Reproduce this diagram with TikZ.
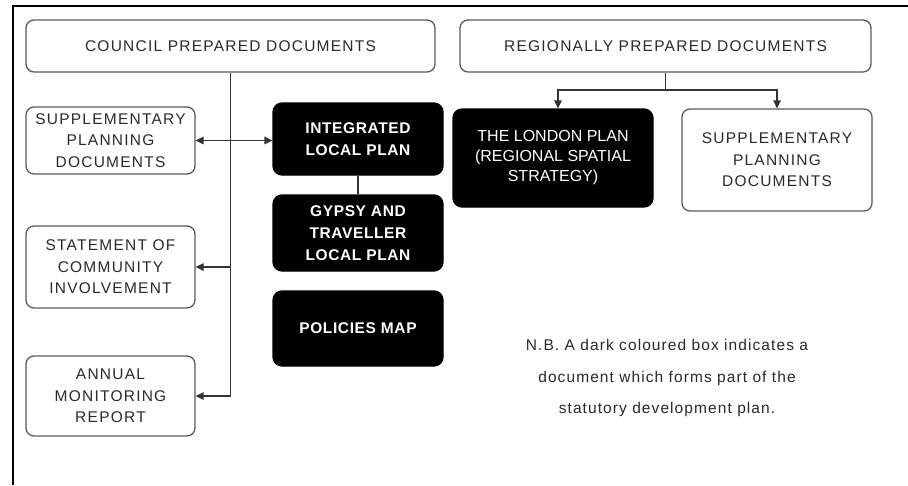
\documentclass[tikz,border=0pt]{standalone}
\usepackage{fontspec}
\setmainfont{Liberation Sans}
\newfontfamily\wfont[LetterSpace=8]{Liberation Sans}
\newfontfamily\bfontfam[LetterSpace=4]{Liberation Sans}
\newfontfamily\nbfont[LetterSpace=7]{Liberation Sans}
\usetikzlibrary{arrows.meta}
\definecolor{txtgray}{HTML}{2A2A2A}
\definecolor{boxgray}{HTML}{5A5A5A}
\tikzset{
  wbox/.style={draw=boxgray, line width=1.3pt, rounded corners=8pt, fill=white, text=txtgray,
    align=center, font=\wfont\fontsize{15.5}{21.5}\selectfont, inner sep=0pt},
  bbox/.style={draw=black, line width=1.3pt, rounded corners=9pt, fill=black, text=white,
    align=center, font=\bfontfam\fontsize{15.5}{22}\selectfont\bfseries, inner sep=0pt},
  lbox/.style={draw=black, line width=1.3pt, rounded corners=9pt, fill=black, text=white,
    align=center, font=\fontsize{16}{20}\selectfont, inner sep=0pt},
  conn/.style={draw=black!80, line width=1.4pt},
  tip/.style={-{Triangle[length=8pt,width=7.5pt]}},
  frame/.style={draw=black, line width=2pt}
}
\begin{document}
\begin{tikzpicture}[x=1pt,y=-1pt]
\useasboundingbox (0,0) rectangle (908,485);
\fill[white] (0,0) rectangle (908,485);
\coordinate (fTL) at (13,6);
\coordinate (fTR) at (908,6);
\coordinate (fBL) at (13,485);
\draw[frame] (fBL) -- (fTL) -- (fTR);

\node[wbox, minimum width=409pt, minimum height=52pt] (council) at (230.5,46) {COUNCIL PREPARED DOCUMENTS};
\node[wbox, minimum width=411pt, minimum height=52pt] (regional) at (665.5,46) {REGIONALLY PREPARED DOCUMENTS};

\node[wbox, minimum width=169pt, minimum height=67pt] (spdl) at (110.5,140.5) {SUPPLEMENTARY\\PLANNING\\DOCUMENTS};
\node[wbox, minimum width=169pt, minimum height=82pt] (sci) at (110.5,267) {STATEMENT OF\\COMMUNITY\\INVOLVEMENT};
\node[wbox, minimum width=169pt, minimum height=80pt] (amr) at (110.5,396) {ANNUAL\\MONITORING\\REPORT};

\node[bbox, minimum width=170pt, minimum height=72pt] (ilp) at (358,139) {INTEGRATED\\LOCAL PLAN};
\node[bbox, minimum width=170pt, minimum height=76pt] (gtlp) at (358,233) {GYPSY AND\\TRAVELLER\\LOCAL PLAN};
\node[bbox, minimum width=170pt, minimum height=75pt] (pmap) at (358,328.5) {POLICIES MAP};

\node[lbox, minimum width=200pt, minimum height=98pt] (london) at (553,158) {THE LONDON PLAN\\(REGIONAL SPATIAL\\STRATEGY)};
\node[wbox, minimum width=190pt, minimum height=102pt] (spdr) at (777,160) {SUPPLEMENTARY\\PLANNING\\DOCUMENTS};

\node[text=txtgray, align=center, font=\nbfont\fontsize{15.5}{31.5}\selectfont] (nb) at (667,378)
  {N.B. A dark coloured box indicates a\\document which forms part of the\\statutory development plan.};

% council connectors
\draw[conn, tip] (council.south) -- (council.south |- amr.east) -- (amr.east);
\draw[conn, tip] (council.south |- sci.east) -- (sci.east);
\draw[conn, {Triangle[length=8pt,width=7.5pt]}-{Triangle[length=8pt,width=7.5pt]}] (spdl.east) -- (spdl.east -| ilp.west);
\draw[conn] (ilp.south) -- (gtlp.north);

% regional connectors
\coordinate (rj) at (665.5,90);
\draw[conn] (regional.south) -- (rj);
\draw[conn, tip] (rj) -| ([xshift=5pt]london.north);
\draw[conn, tip] (rj) -| (spdr.north);
\end{tikzpicture}
\end{document}
